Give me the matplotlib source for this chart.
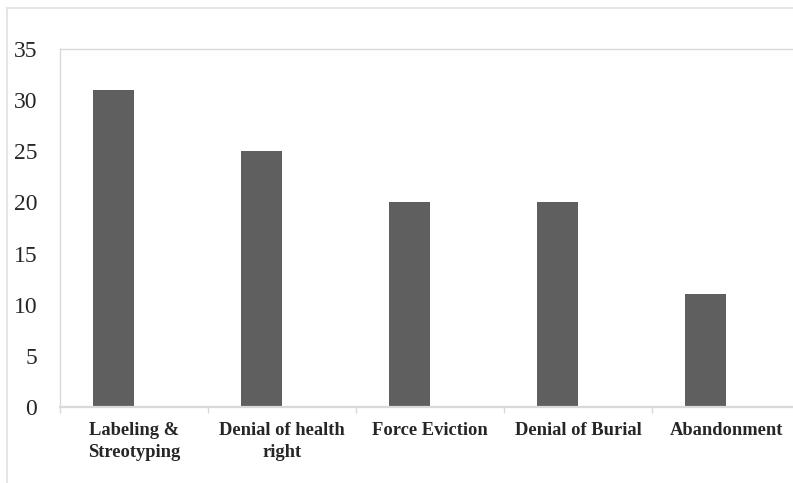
import matplotlib
matplotlib.use("Agg")
import matplotlib.pyplot as plt
from matplotlib.lines import Line2D

categories = ["Labeling &\nStreotyping", "Denial of health\nright", "Force Eviction",
              "Denial of Burial", "Abandonment"]
values = [31, 25, 20, 20, 11]
y_ticks = [0, 5, 10, 15, 20, 25, 30, 35]

W, H = 793, 483
fig = plt.figure(figsize=(W / 100, H / 100), dpi=100)

# chart-area border (top and left edges)
frame_col = "#e0e0e0"
fig.add_artist(Line2D([7 / W, 7 / W], [0, 1 - 8 / H], transform=fig.transFigure,
                      color=frame_col, lw=1.2))
fig.add_artist(Line2D([7 / W, 1], [1 - 8 / H, 1 - 8 / H], transform=fig.transFigure,
                      color=frame_col, lw=1.2))

left, right, bottom, top = 60, 800, 407, 49
ax = fig.add_axes([left / W, 1 - bottom / H, (right - left) / W, (bottom - top) / H])

x = list(range(len(categories)))
ax.bar(x, values, width=-0.28, align="edge", color="#5f5f5f", zorder=2)

ax.set_xlim(-0.5, len(categories) - 0.5)
ax.set_ylim(0, 35)

spine_col = "#d9d9d9"
for name, sp in ax.spines.items():
    sp.set_color(spine_col)
    sp.set_linewidth(1.0)
ax.spines["right"].set_visible(False)
ax.spines["bottom"].set_linewidth(1.6)

ax.set_yticks(y_ticks)
ax.set_yticklabels([str(v) for v in y_ticks], fontfamily="Liberation Serif",
                   fontsize=17, color="#262626")
ax.tick_params(axis="y", length=0, pad=16.5)

ax.set_xticks([i - 0.5 for i in range(len(categories) + 1)])
ax.set_xticklabels([""] * (len(categories) + 1))
ax.tick_params(axis="x", which="major", length=4, width=1, color=spine_col)
ax.set_xticks(x, minor=True)
ax.set_xticklabels(categories, minor=True, fontfamily="Liberation Serif",
                   fontweight="bold", fontsize=13.3, color="#262626", linespacing=1.4)
ax.tick_params(axis="x", which="minor", length=0, pad=10.5)

fig.savefig("out.png", dpi=100, facecolor="white")
